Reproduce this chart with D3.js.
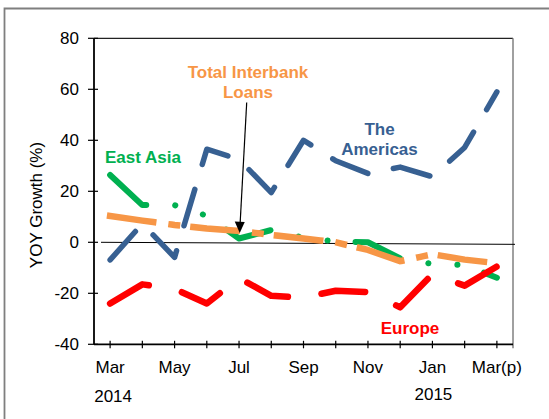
<!DOCTYPE html>
<html lang="en">
<head>
  <meta charset="UTF-8">
  <title>Interbank Loans YOY Growth</title>
  <script src="https://d3js.org/d3.v7.min.js"></script>
  <style>
    body { margin: 0; background: #fff; }
    svg { display: block; font-family: "Liberation Sans", Arial, sans-serif; }
  </style>
</head>
<body>
  <svg id="chart" width="549" height="419"></svg>

  <script>
    // months Mar 2014 .. Mar 2015 (p)
    const monthKeys   = ['2014-03','2014-04','2014-05','2014-06','2014-07','2014-08','2014-09',
                         '2014-10','2014-11','2014-12','2015-01','2015-02','2015-03'];
    const monthLabels = ['Mar','Apr','May','Jun','Jul','Aug','Sep','Oct','Nov','Dec','Jan','Feb','Mar(p)'];
    const yTicks = [-40, -20, 0, 20, 40, 60, 80];

    // YOY growth (%)
    const eastAsia   = [26.4, 14.6, 14.6, 10.4, 1.5, 4.8, 1.8, 0.3, 0.0, -6.3, -8.5, -8.9, -13.9];
    const totalLoans = [10.3, 8.5, 6.8, 5.4, 4.5, 2.9, 1.5, 0.0, -3.0, -7.4, -4.7, -6.8, -8.2];
    const americas   = [-6.9, 7.3, -5.9, 36.5, 32.5, 19.5, 40, 32, 27, 29.5, 25.7, 37.2, 59];
    const europe     = [-24, -16.5, -18.3, -24, -14, -21, -21.7, -19, -19.5, -25.5, -12.5, -17, -9.5];

    const svg = d3.select('#chart');
    const plotL = 94, plotR = 513, plotT = 38.3, plotB = 344.3;

    const x = d3.scalePoint().domain(monthKeys).range([plotL, plotR]).padding(0.5);
    const y = d3.scaleLinear().domain([-40, 80]).range([plotB, plotT]);

    // outer frame
    svg.append('path')
      .attr('d', 'M4.5,419 V8.5 H549')
      .attr('fill', 'none').attr('stroke', '#7f7f7f').attr('stroke-width', 1.8);

    // plot frame (top + right)
    svg.append('line').attr('x1', plotL).attr('x2', plotR).attr('y1', plotT).attr('y2', plotT)
      .attr('stroke', '#222').attr('stroke-width', 1.2);
    svg.append('line').attr('x1', plotR).attr('x2', plotR).attr('y1', plotT).attr('y2', plotB + 4)
      .attr('stroke', '#808080').attr('stroke-width', 1.5);

    // zero line
    svg.append('line')
      .attr('x1', plotL + 7).attr('x2', plotR + 2)
      .attr('y1', y(0)).attr('y2', y(-0.8))
      .attr('stroke', '#000').attr('stroke-width', 1);

    // y axis
    svg.append('line').attr('x1', plotL).attr('x2', plotL).attr('y1', plotT).attr('y2', plotB)
      .attr('stroke', '#000').attr('stroke-width', 1.8);
    const yg = svg.append('g');
    yg.selectAll('line').data(yTicks).join('line')
      .attr('x1', plotL - 6).attr('x2', plotL + 4)
      .attr('y1', d => y(d)).attr('y2', d => y(d))
      .attr('stroke', '#000').attr('stroke-width', 1.2);
    yg.selectAll('text').data(yTicks).join('text')
      .attr('x', 79).attr('y', d => y(d)).attr('dy', '0.35em')
      .attr('text-anchor', 'end').attr('font-size', 17).attr('fill', '#000')
      .text(d => d);

    svg.append('text')
      .attr('transform', 'translate(42,205) rotate(-90)')
      .attr('text-anchor', 'middle').attr('font-size', 17).attr('fill', '#000')
      .text('YOY Growth (%)');

    // x axis
    svg.append('line').attr('x1', plotL).attr('x2', plotR).attr('y1', plotB).attr('y2', plotB)
      .attr('stroke', '#000').attr('stroke-width', 1.8);
    const xg = svg.append('g');
    xg.selectAll('line').data(monthKeys).join('line')
      .attr('x1', d => x(d)).attr('x2', d => x(d))
      .attr('y1', plotB - 3.5).attr('y2', plotB + 4)
      .attr('stroke', '#000').attr('stroke-width', 1.2);
    xg.selectAll('text').data(monthKeys.filter((d, i) => i % 2 === 0))
      .join('text')
      .attr('x', d => x(d)).attr('y', 372.5)
      .attr('text-anchor', 'middle').attr('font-size', 17).attr('fill', '#000')
      .text(d => monthLabels[monthKeys.indexOf(d)]);
    svg.append('text').attr('x', x('2014-03') + 3).attr('y', 401.5)
      .attr('text-anchor', 'middle').attr('font-size', 17).text('2014');
    svg.append('text').attr('x', x('2015-01') + 1).attr('y', 399.5)
      .attr('text-anchor', 'middle').attr('font-size', 17).text('2015');

    // series
    const line = d3.line().x((d, i) => x(monthKeys[i])).y(d => y(d));
    const series = [
      { values: eastAsia,   color: '#00B050', width: 6,   dash: '48 29 0.1 29 0.1 28', cap: 'round' },
      { values: totalLoans, color: '#F79646', width: 6.5, dash: '43.5 18.5 5.5 16.5',  cap: 'square' },
      { values: americas,   color: '#376092', width: 5.5, dash: '38 26',               cap: 'round' },
      { values: europe,     color: '#FF0000', width: 6.5, dash: '44 34',               cap: 'round' }
    ];
    svg.append('g').selectAll('path').data(series).join('path')
      .attr('d', d => line(d.values))
      .attr('fill', 'none')
      .attr('stroke', d => d.color)
      .attr('stroke-width', d => d.width)
      .attr('stroke-dasharray', d => d.dash)
      .attr('stroke-linecap', d => d.cap)
      .attr('stroke-linejoin', 'round');

    // labels
    const labels = [
      { lines: ['East Asia'], cx: 143, y0: 162.7, color: '#00B050' },
      { lines: ['Total Interbank', 'Loans'], cx: 248, y0: 78.3, color: '#F79646' },
      { lines: ['The', 'Americas'], cx: 379.5, y0: 135, color: '#376092' },
      { lines: ['Europe'], cx: 410, y0: 334, color: '#FF0000' }
    ];
    labels.forEach(l => {
      const t = svg.append('text')
        .attr('text-anchor', 'middle').attr('font-size', 17).attr('font-weight', 'bold')
        .attr('fill', l.color);
      l.lines.forEach((s, i) => {
        t.append('tspan').attr('x', l.cx).attr('y', l.y0 + i * 19.5).text(s);
      });
    });

    // arrow pointing at Jul total loans
    const tipX = x('2014-07') + 0.7, tipY = y(3.6);
    svg.append('line')
      .attr('x1', 246.7).attr('y1', 102.5).attr('x2', tipX + 0.3).attr('y2', tipY - 8)
      .attr('stroke', '#000').attr('stroke-width', 1.2);
    svg.append('path')
      .attr('d', `M${tipX},${tipY} L${tipX - 5},${tipY - 11.5} L${tipX + 5},${tipY - 11} Z`)
      .attr('fill', '#000');
  </script>
</body>
</html>
